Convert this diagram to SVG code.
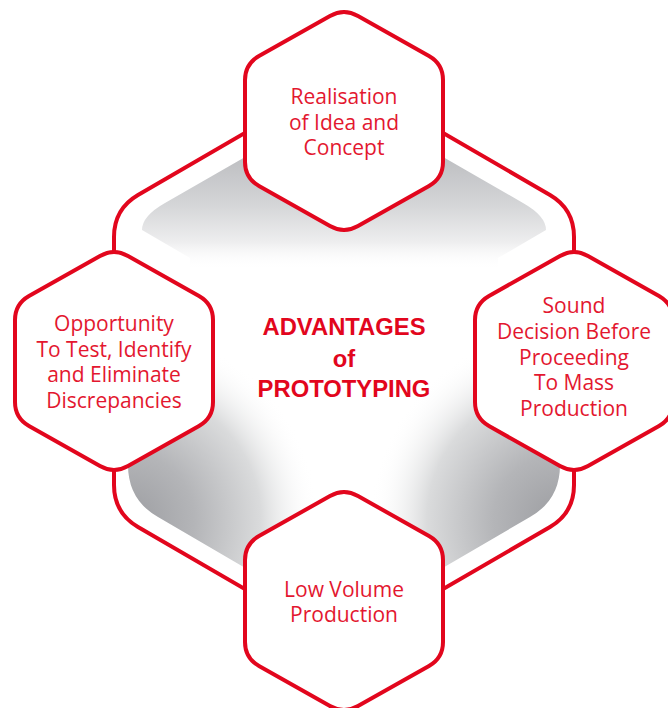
<svg xmlns="http://www.w3.org/2000/svg" xmlns:xlink="http://www.w3.org/1999/xlink" width="668" height="708" viewBox="0 0 668 708">
  <style>
    .hex { fill: #ffffff; stroke: #e2061d; stroke-width: 4; stroke-linejoin: round; }
    .conn { fill: none; stroke: #e2061d; stroke-width: 4; stroke-linecap: butt; }
    .lbl { font-family: "Open Sans", "Liberation Sans", sans-serif; font-size: 21px; fill: #e3172f; text-anchor: middle; }
    .title { font-family: "Liberation Sans", Arial, sans-serif; font-weight: bold; font-size: 23.8px; fill: #e2061d; text-anchor: middle; }
  </style>
  <defs>
    <path id="hex" d="M14,-105 L85,-65 Q99,-57 99,-41 L99,41 Q99,57 85,65 L14,105 Q0,113 -14,105 L-85,65 Q-99,57 -99,41 L-99,-41 Q-99,-57 -85,-65 L-14,-105 Q0,-113 14,-105 Z"/>
    <clipPath id="shadeClip">
      <path d="M344,100 L523,203 Q546,216 546,230 L498,258 L498,420 L560,440 L560,465 Q560,500 530,517 L374,608 Q344,625 314,608 L158,517 Q128,500 128,465 L128,440 L190,420 L190,258 L142,230 Q142,216 165,203 Z"/>
    </clipPath>
    <linearGradient id="shadeTop" gradientUnits="userSpaceOnUse" x1="0" y1="160" x2="0" y2="270">
      <stop offset="0" stop-color="#bfc0c3"/>
      <stop offset="0.4" stop-color="#d4d5d7"/>
      <stop offset="0.75" stop-color="#eeeeef"/>
      <stop offset="1" stop-color="#ffffff" stop-opacity="0"/>
    </linearGradient>
    <radialGradient id="shadeLL" gradientUnits="userSpaceOnUse" cx="128" cy="520" r="190">
      <stop offset="0" stop-color="#9c9da1"/>
      <stop offset="0.35" stop-color="#b4b5b8"/>
      <stop offset="0.7" stop-color="#dadbdc"/>
      <stop offset="1" stop-color="#ffffff" stop-opacity="0"/>
    </radialGradient>
    <radialGradient id="shadeLR" gradientUnits="userSpaceOnUse" cx="560" cy="520" r="190">
      <stop offset="0" stop-color="#9c9da1"/>
      <stop offset="0.35" stop-color="#b4b5b8"/>
      <stop offset="0.7" stop-color="#dadbdc"/>
      <stop offset="1" stop-color="#ffffff" stop-opacity="0"/>
    </radialGradient>
  </defs>
  <rect x="0" y="0" width="668" height="708" fill="#ffffff"/>
  <g id="shading" clip-path="url(#shadeClip)">
    <rect x="120" y="90" width="450" height="540" fill="url(#shadeTop)"/>
    <rect x="120" y="90" width="450" height="540" fill="url(#shadeLL)"/>
    <rect x="120" y="90" width="450" height="540" fill="url(#shadeLR)"/>
  </g>
  <g id="connectors">
    <path class="conn" d="M400,108 L550,195 Q574,209 574,237 L574,280"/>
    <path class="conn" d="M574,440 L574,485 Q574,513 550,527 L400,614"/>
    <path class="conn" d="M288,614 L138,527 Q114,513 114,485 L114,440"/>
    <path class="conn" d="M114,280 L114,237 Q114,209 138,195 L288,108"/>
  </g>
  <g id="center">
    <text class="title" x="344" y="335">ADVANTAGES</text>
    <text class="title" x="344" y="366.5">of</text>
    <text class="title" x="344" y="397">PROTOTYPING</text>
  </g>
  <g id="node-top">
    <use href="#hex" xlink:href="#hex" class="hex" x="344" y="121"/>
    <text class="lbl" x="344" y="104">Realisation</text>
    <text class="lbl" x="344" y="129.5">of Idea and</text>
    <text class="lbl" x="344" y="155">Concept</text>
  </g>
  <g id="node-right">
    <use href="#hex" xlink:href="#hex" class="hex" x="574" y="361"/>
    <text class="lbl" x="574" y="313">Sound</text>
    <text class="lbl" x="574" y="339">Decision Before</text>
    <text class="lbl" x="574" y="364.5">Proceeding</text>
    <text class="lbl" x="574" y="390">To Mass</text>
    <text class="lbl" x="574" y="415.5">Production</text>
  </g>
  <g id="node-bottom">
    <use href="#hex" xlink:href="#hex" class="hex" x="344" y="601"/>
    <text class="lbl" x="344" y="596.5">Low Volume</text>
    <text class="lbl" x="344" y="621.5">Production</text>
  </g>
  <g id="node-left">
    <use href="#hex" xlink:href="#hex" class="hex" x="114" y="361"/>
    <text class="lbl" x="114" y="331">Opportunity</text>
    <text class="lbl" x="114" y="356.5">To Test, Identify</text>
    <text class="lbl" x="114" y="382">and Eliminate</text>
    <text class="lbl" x="114" y="407.5">Discrepancies</text>
  </g>
</svg>
